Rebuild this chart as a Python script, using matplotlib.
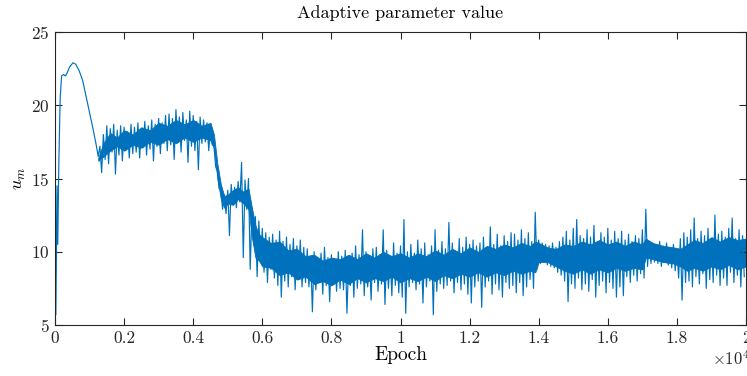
import matplotlib
matplotlib.use("Agg")
import matplotlib.pyplot as plt
import numpy as np

plt.rcParams['font.family'] = 'serif'
plt.rcParams['font.serif'] = ['cmr10']
plt.rcParams['mathtext.fontset'] = 'cm'
plt.rcParams['axes.formatter.use_mathtext'] = True

# Early, smooth part of the curve (epoch, value)
early_epochs = [0, 10, 25, 45, 60, 80, 110, 150, 190, 250, 300, 350, 420, 520,
                600, 700, 800, 900, 1000, 1100, 1200, 1250]
early_values = [9.0, 15.9, 5.7, 10.8, 14.5, 10.5, 16.0, 20.5, 22.0, 22.1, 22.0, 22.2,
                22.6, 22.9, 22.8, 22.35, 21.7, 20.6, 19.5, 18.4, 17.2, 16.5]

# Noisy part: upper / lower excursions every 100 epochs starting at 1300
noisy_start = 1300
noisy_step = 100
noisy_high = [
    17.2, 18.0, 18.6, 18.4, 18.7, 18.3, 18.6, 18.5, 18.2, 18.7,
    18.5, 18.8, 18.4, 18.9, 18.6, 19.0, 18.7, 19.1, 18.8, 19.3,
    19.4, 19.1, 19.7, 19.2, 19.5, 19.0, 19.6, 19.3, 18.9, 19.2,
    19.0, 18.8, 18.6, 17.2, 15.5, 14.3, 13.9, 14.2, 14.6, 14.4,
    14.8, 16.1, 14.9, 15.0, 12.8, 12.4, 12.1, 11.6, 11.3, 11.0,
    11.2, 10.8, 11.4, 10.7, 11.0, 10.5, 10.9, 10.4, 10.8, 10.3,
    10.2, 9.7, 10.0, 9.5, 9.9, 10.3, 9.6, 9.8, 9.4, 10.0,
    9.7, 10.1, 9.5, 9.9, 10.4, 9.8, 11.5, 10.0, 9.6, 10.2,
    10.3, 9.8, 11.5, 10.1, 9.7, 10.6, 9.9, 10.4, 12.2, 10.0,
    10.5, 9.9, 10.8, 10.2, 10.6, 9.8, 10.4, 11.5, 10.1, 10.7,
    10.2, 12.0, 10.6, 10.0, 10.9, 10.3, 11.0, 10.5, 10.8, 10.4,
    10.6, 11.0, 10.3, 11.7, 10.5, 11.2, 10.4, 11.1, 10.7, 11.3,
    11.2, 10.8, 11.5, 10.9, 11.3, 10.7, 12.7, 10.8, 10.6, 10.5,
    10.4, 10.6, 10.3, 10.7, 11.0, 11.4, 10.8, 11.6, 12.2, 11.1,
    10.9, 11.5, 11.0, 11.8, 10.7, 11.3, 11.0, 11.6, 10.8, 11.4,
    10.9, 11.4, 10.8, 11.2, 10.7, 11.1, 10.9, 11.5, 12.9, 10.7,
    10.6, 10.5, 10.7, 10.4, 10.6, 10.3, 10.5, 10.2, 10.9, 11.3,
    11.0, 11.5, 12.3, 10.9, 11.4, 11.1, 11.6, 10.8, 12.5, 11.2,
    11.4, 11.0, 11.6, 12.3, 10.9, 11.5, 11.1,
]
noisy_low = [
    15.4, 16.3, 16.0, 16.8, 15.3, 16.6, 16.2, 16.9, 16.4, 16.7,
    16.8, 16.4, 17.1, 16.6, 17.0, 16.2, 17.2, 16.7, 17.4, 16.9,
    17.3, 16.3, 17.5, 16.8, 17.6, 16.1, 17.2, 16.9, 15.6, 17.4,
    17.5, 16.9, 17.3, 15.8, 14.3, 12.9, 12.6, 11.1, 13.3, 13.0,
    13.4, 9.6, 12.9, 8.8, 10.5, 8.3, 9.4, 8.6, 7.9, 8.8,
    8.2, 7.7, 6.9, 8.0, 7.6, 8.3, 7.4, 8.1, 7.6, 7.9,
    7.6, 5.9, 7.4, 7.9, 7.1, 7.7, 6.6, 7.8, 7.3, 7.5,
    7.4, 5.8, 7.7, 6.9, 7.5, 7.8, 7.0, 7.6, 6.7, 7.9,
    7.3, 7.8, 6.4, 7.5, 7.0, 7.7, 7.2, 6.9, 5.8, 7.6,
    7.9, 7.4, 7.8, 6.5, 7.6, 8.0, 5.7, 7.3, 7.8, 7.5,
    7.7, 8.0, 7.2, 7.9, 7.4, 7.8, 7.1, 6.5, 7.6, 8.0,
    6.2, 7.6, 8.0, 7.1, 7.8, 7.4, 6.9, 7.9, 7.5, 7.7,
    7.2, 7.9, 7.0, 7.6, 8.1, 7.5, 8.8, 9.2, 9.3, 9.1,
    9.0, 8.9, 8.6, 8.4, 8.0, 6.6, 7.8, 7.5, 8.2, 7.4,
    7.8, 7.3, 8.1, 6.9, 7.7, 8.0, 7.2, 7.9, 7.5, 6.9,
    7.6, 7.0, 8.3, 7.9, 8.4, 8.0, 8.5, 8.2, 9.0, 9.2,
    9.3, 9.2, 9.0, 9.3, 9.1, 8.9, 8.7, 8.2, 6.7, 7.9,
    8.0, 7.6, 8.3, 7.8, 8.5, 7.5, 8.1, 7.9, 8.4, 7.7,
    8.2, 7.7, 8.6, 7.9, 8.4, 7.6, 8.3,
]

# Dense core of the oscillating trace (where the line overplots solidly)
core_epochs = [
    1250, 1400, 1600, 1800, 2000, 2250, 2500, 2750, 3000, 3250,
    3500, 3750, 4000, 4250, 4500, 4600, 4700, 4800, 4900, 5000,
    5150, 5300, 5450, 5600, 5700, 5800, 5900, 6000, 6250, 6500,
    6750, 7000, 7250, 7500, 7750, 8000, 8250, 8500, 8750, 9000,
    9250, 9500, 9750, 10000, 10250, 10500, 10750, 11000, 11250, 11500,
    11750, 12000, 12250, 12500, 12750, 13000, 13250, 13500, 13750, 13900,
    14000, 14250, 14500, 14750, 15000, 15250, 15500, 15750, 16000, 16250,
    16500, 16750, 17000, 17100, 17300, 17600, 17900, 18100, 18300, 18500,
    18750, 19000, 19250, 19500, 19750, 20000,
]
core_upper = [
    16.4, 17.4, 18.1, 17.8, 18.3, 18.0, 18.5, 18.3, 18.8, 18.6,
    19.0, 18.7, 19.0, 18.6, 18.8, 18.0, 16.0, 14.6, 13.8, 13.9,
    14.2, 14.4, 14.1, 14.3, 13.0, 11.8, 11.2, 11.0, 10.6, 10.7,
    10.1, 10.2, 9.7, 9.8, 9.4, 9.6, 9.5, 9.8, 9.5, 9.9,
    9.6, 10.0, 9.7, 9.9, 9.6, 9.9, 9.7, 10.1, 9.8, 10.2,
    9.9, 10.3, 10.0, 10.4, 10.2, 10.5, 10.3, 10.6, 10.4, 10.7,
    10.6, 10.3, 10.2, 10.5, 10.4, 10.7, 10.5, 10.8, 10.5, 10.7,
    10.4, 10.7, 10.5, 10.9, 10.6, 10.4, 10.3, 10.2, 10.5, 10.8,
    10.6, 11.0, 10.7, 11.0, 10.8, 10.9,
]
core_lower = [
    16.2, 16.5, 16.9, 17.2, 16.9, 17.3, 17.1, 17.5, 17.3, 17.7,
    17.4, 17.8, 17.5, 17.8, 17.6, 17.1, 15.0, 13.6, 13.0, 13.3,
    13.2, 13.6, 13.3, 12.9, 11.0, 9.6, 9.4, 9.0, 8.9, 8.4,
    8.6, 8.1, 8.3, 7.8, 8.0, 7.7, 8.1, 7.8, 8.2, 7.9,
    8.2, 8.0, 8.3, 7.9, 8.2, 8.0, 8.3, 8.0, 8.4, 8.2,
    8.5, 8.3, 8.6, 8.3, 8.6, 8.4, 8.7, 8.5, 8.7, 8.6,
    9.3, 9.3, 9.0, 8.7, 8.5, 8.8, 8.5, 8.8, 8.6, 8.9,
    8.7, 8.9, 8.8, 9.6, 9.5, 9.3, 9.2, 9.0, 8.7, 8.9,
    8.7, 9.0, 8.8, 9.1, 8.8, 9.0,
]

xtick_vals = [0, 2000, 4000, 6000, 8000, 10000, 12000, 14000, 16000, 18000, 20000]
xtick_labels = ['0', '0.2', '0.4', '0.6', '0.8', '1', '1.2', '1.4', '1.6', '1.8', '2']
ytick_vals = [5, 10, 15, 20, 25]

# assemble series
ep = list(early_epochs)
val = list(early_values)
for k, (h, l) in enumerate(zip(noisy_high, noisy_low)):
    e = noisy_start + k * noisy_step
    ep.extend([e, e + noisy_step // 2])
    val.extend([h, l])

W, H = 747, 376
fig = plt.figure(figsize=(W / 100, H / 100), dpi=100)
ax = fig.add_axes([55 / W, (H - 325) / H, (746 - 55) / W, (325 - 32) / H])

line_col = '#0072BD'
ax.fill_between(core_epochs, core_lower, core_upper, color=line_col, lw=0.6,
                edgecolor=line_col)
ax.plot(ep, val, color=line_col, lw=0.85)

ax.set_xlim(0, 20000)
ax.set_ylim(5, 25)
ax.set_xticks(xtick_vals)
ax.set_xticklabels(xtick_labels)
ax.set_yticks(ytick_vals)

axcol = '#262626'
for s in ax.spines.values():
    s.set_color(axcol)
    s.set_linewidth(0.8)
ax.tick_params(direction='in', top=True, right=True, length=5, width=0.8,
               colors=axcol, labelsize=12.5, pad=4)

ax.set_title('Adaptive parameter value', fontsize=13, color='black', pad=10)
ax.set_xlabel('Epoch', fontsize=14, labelpad=0)
ax.set_ylabel('$u_m$', fontsize=13, labelpad=2)

fig.text(712 / W, (H - 365) / H, r'$\times10^{4}$', fontsize=12, color=axcol,
         ha='left', va='baseline')

fig.savefig('out.png', dpi=100)
